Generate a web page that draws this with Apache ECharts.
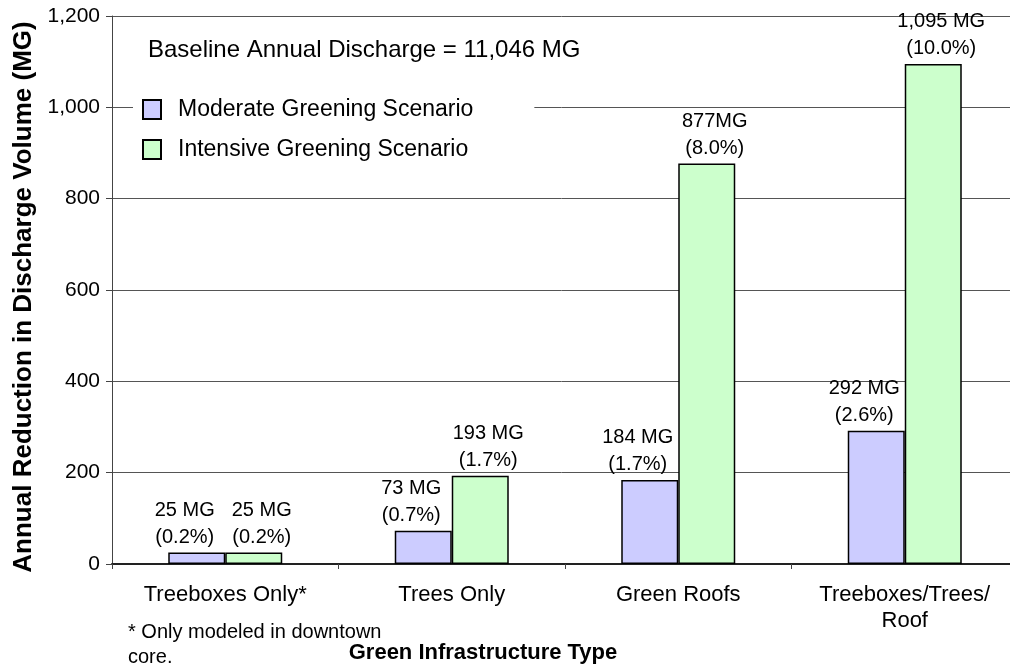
<!DOCTYPE html>
<html>
<head>
<meta charset="utf-8">
<title>Annual Reduction in Discharge Volume</title>
<script src="https://cdn.jsdelivr.net/npm/echarts@6/dist/echarts.min.js"></script>
<style>
  html, body { margin: 0; padding: 0; background: #fff; }
  #chart { width: 1010px; height: 666px; }
</style>
</head>
<body>
<div id="chart"></div>
<script>
// data
var categories = ['Treeboxes Only*', 'Trees Only', 'Green Roofs', 'Treeboxes/Trees/\nRoof'];
var moderate = [25, 73, 184, 292];
var intensive = [25, 193, 877, 1095];
var moderatePct = ['0.2', '0.7', '1.7', '2.6'];
var intensivePct = ['0.2', '1.7', '8.0', '10.0'];
var intensiveUnits = [' MG', ' MG', 'MG', ' MG'];
var yTicks = [0, 200, 400, 600, 800, 1000, 1200];

var FONT = 'Arial, "Liberation Sans", sans-serif';

function fmt(v) {
    return v.toLocaleString('en-US');
}

function init() {
    var myChart = echarts.init(document.getElementById('chart'));

    myChart.setOption({
        backgroundColor: '#fff',
        textStyle: { fontFamily: FONT, color: '#000' },
        animation: false,
        // plot runs a little past the right edge, like the original
        grid: { left: 112, top: 16, width: 906, height: 548, outerBoundsMode: 'none', containLabel: false },
        legend: {
            orient: 'vertical',
            left: 133,
            top: 88,
            padding: [10, 61, 10, 9],
            backgroundColor: '#fff',
            itemGap: 17,
            itemWidth: 18,
            itemHeight: 19,
            icon: 'rect',
            textStyle: { fontSize: 23, color: '#000', fontFamily: FONT, padding: [0, 0, 0, 12] },
            data: ['Moderate Greening Scenario', 'Intensive Greening Scenario']
        },
        graphic: [
            {
                type: 'text', left: 148, top: 38, z: 10,
                style: { text: 'Baseline Annual Discharge = 11,046 MG', fontSize: 24, fontFamily: FONT, fill: '#000' }
            },
            {
                type: 'text', left: 128, top: 620, z: 10,
                style: { text: '* Only modeled in downtown\ncore.', fontSize: 20, lineHeight: 25, fontFamily: FONT, fill: '#000' }
            }
        ],
        xAxis: {
            type: 'category',
            data: categories,
            name: 'Green Infrastructure Type',
            nameLocation: 'middle',
            nameGap: 78,
            nameTextStyle: { fontSize: 22, fontWeight: 'bold', color: '#000', padding: [0, 164, 0, 0] },
            axisLine: { lineStyle: { color: '#222', width: 2 } },
            axisTick: { show: true, length: 5, lineStyle: { color: '#444' } },
            axisLabel: { fontSize: 22, lineHeight: 26, color: '#000', margin: 18, interval: 0 }
        },
        yAxis: {
            type: 'value',
            min: 0,
            max: 1200,
            interval: 200,
            name: 'Annual Reduction in Discharge Volume (MG)',
            nameLocation: 'middle',
            nameGap: 70,
            nameTextStyle: { fontSize: 26, fontWeight: 'bold', color: '#000', padding: [0, 14, 0, 0] },
            axisLine: { show: true, lineStyle: { color: '#444', width: 1 } },
            axisTick: { show: true, length: 6, lineStyle: { color: '#444' } },
            axisLabel: {
                fontSize: 21, color: '#000', margin: 12,
                formatter: function (v) { return yTicks.indexOf(v) >= 0 ? fmt(v) : ''; }
            },
            splitLine: { lineStyle: { color: '#555', width: 1 } }
        },
        series: [
            {
                name: 'Moderate Greening Scenario',
                type: 'bar',
                data: moderate,
                barWidth: 57,
                barGap: '0%',
                itemStyle: { color: '#ccccff', borderColor: '#000', borderWidth: 1.5 },
                label: {
                    show: true, position: 'top', distance: 2, offset: [-12, 0],
                    fontSize: 20, lineHeight: 27, color: '#000', fontFamily: FONT,
                    formatter: function (p) {
                        return fmt(p.value) + ' MG\n(' + moderatePct[p.dataIndex] + '%)';
                    }
                }
            },
            {
                name: 'Intensive Greening Scenario',
                type: 'bar',
                data: intensive,
                barWidth: 57,
                barGap: '0%',
                itemStyle: { color: '#ccffcc', borderColor: '#000', borderWidth: 1.5 },
                label: {
                    show: true, position: 'top', distance: 2, offset: [8, 0],
                    fontSize: 20, lineHeight: 27, color: '#000', fontFamily: FONT,
                    formatter: function (p) {
                        return fmt(p.value) + intensiveUnits[p.dataIndex] + '\n(' + intensivePct[p.dataIndex] + '%)';
                    }
                }
            }
        ]
    });
}

document.addEventListener('DOMContentLoaded', function () {
    init();
});
</script>
</body>
</html>
